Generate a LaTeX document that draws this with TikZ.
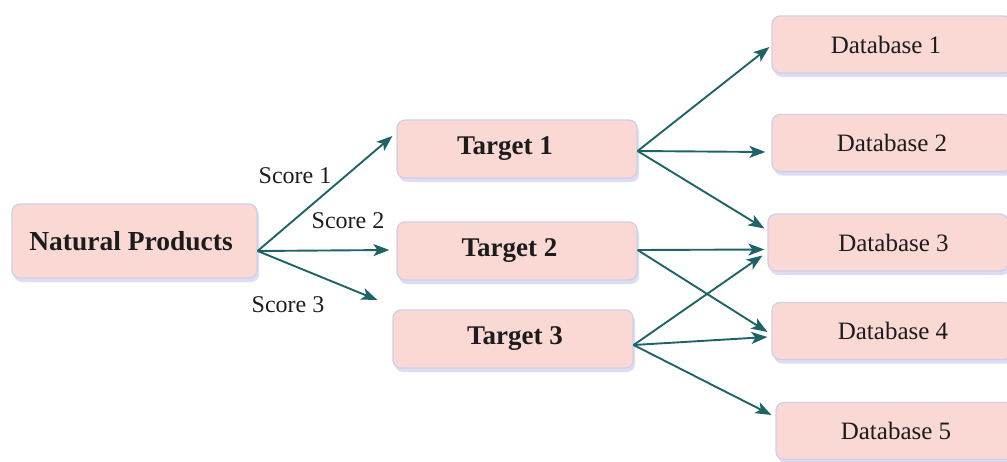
\documentclass[tikz,border=0pt]{standalone}
\usepackage{fontspec}
\setmainfont{Liberation Serif}
\usetikzlibrary{arrows.meta,shadows}
\definecolor{boxfill}{HTML}{FAD9D5}
\definecolor{boxline}{HTML}{CFCDE8}
\definecolor{arrowc}{HTML}{1E6466}
\definecolor{txt}{HTML}{1C1C1C}
\tikzset{
  box/.style={draw=boxline, line width=1.2pt, fill=boxfill, rounded corners=8pt,
    drop shadow={shadow xshift=2pt, shadow yshift=-4pt, fill=black!35!blue!30, opacity=0.45},
    text=txt, inner sep=0pt},
  npbox/.style={box, minimum width=245pt, minimum height=74pt, font=\fontsize{27.5}{30}\selectfont\bfseries},
  tbox/.style={box, minimum width=240pt, minimum height=58pt, font=\fontsize{27}{29}\selectfont\bfseries},
  dbbox/.style={box, minimum width=240pt, minimum height=57pt, font=\fontsize{25}{27}\selectfont},
  lbl/.style={text=txt, font=\fontsize{24}{26}\selectfont, inner sep=0pt},
  link/.style={draw=arrowc, line width=1.9pt, -{Stealth[length=16pt,width=12pt,inset=4pt]}}
}
\begin{document}
\begin{tikzpicture}[x=1pt,y=-1pt]
\useasboundingbox (0,0) rectangle (1007,461);
\node[npbox] (np) at (134.5,241) {\hspace*{-7pt}Natural Products};
\node[tbox] (t1) at (517,149) {\hspace*{-24pt}Target 1};
\node[tbox] (t2) at (517,251) {\hspace*{-15pt}Target 2};
\node[tbox] (t3) at (513,339) {\hspace*{4pt}Target 3};
\node[dbbox] (d1) at (892,44.5) {\hspace*{-12pt}Database 1};
\node[dbbox] (d2) at (892,143) {Database 2};
\node[dbbox] (d3) at (888,242.5) {\hspace*{11pt}Database 3};
\node[dbbox] (d4) at (892,331) {\hspace*{2pt}Database 4};
\node[dbbox] (d5) at (896,431) {Database 5};
% connector end points
\coordinate (npo) at ([yshift=-10pt]np.east);
\coordinate (e1) at ([xshift=-4pt,yshift=13pt]t1.west);
\coordinate (e2) at ([xshift=-7pt,yshift=1pt]t2.west);
\coordinate (e3) at ([xshift=-15pt,yshift=39pt]t3.west);
\coordinate (t1o) at ([yshift=-2pt]t1.east);
\coordinate (t2o) at ([yshift=1pt]t2.east);
\coordinate (t3o) at ([yshift=-6pt]t3.east);
\coordinate (f11) at ([xshift=-2pt,yshift=-2.5pt]d1.west);
\coordinate (f12) at ([xshift=-6pt,yshift=-9pt]d2.west);
\coordinate (f13) at ([xshift=-3pt,yshift=14pt]d3.west);
\coordinate (f23) at ([xshift=-3pt,yshift=-7pt]d3.west);
\coordinate (f24) at ([xshift=-4pt,yshift=-1pt]d4.west);
\coordinate (f33) at ([xshift=-5pt,yshift=-13pt]d3.west);
\coordinate (f34) at ([xshift=-4pt,yshift=-6pt]d4.west);
\coordinate (f35) at ([xshift=-4pt,yshift=16pt]d5.west);
% connectors
\draw[link] (npo) -- (e1);
\draw[link] (npo) -- (e2);
\draw[link] (npo) -- (e3);
\draw[link] (t1o) -- (f11);
\draw[link] (t1o) -- (f12);
\draw[link] (t1o) -- (f13);
\draw[link] (t2o) -- (f23);
\draw[link] (t2o) -- (f24);
\draw[link] (t3o) -- (f33);
\draw[link] (t3o) -- (f34);
\draw[link] (t3o) -- (f35);
% labels
\node[lbl] (s1) at (295,176) {Score 1};
\node[lbl] (s2) at (348,221) {Score 2};
\node[lbl] (s3) at (288,305) {Score 3};
\end{tikzpicture}
\end{document}
